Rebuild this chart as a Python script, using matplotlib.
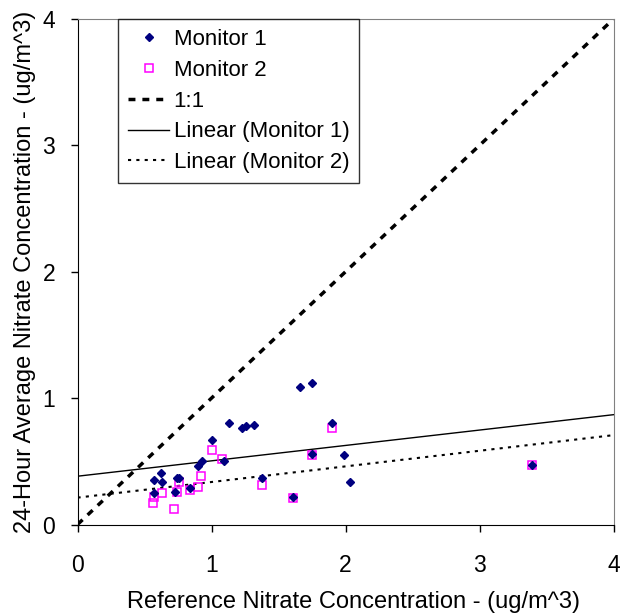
import numpy as np
from matplotlib import pyplot as plt

plt.rcParams['font.family'] = ['Liberation Sans', 'DejaVu Sans']

# reference vs. monitor nitrate (ug/m^3)
mon1_ref = [1.13, 1.23, 1.26, 1.32, 1.00, 0.93, 0.90, 1.09, 0.62, 0.57, 0.63, 0.74, 0.76,
            0.73, 0.84, 0.57, 1.38, 1.66, 1.75, 1.90, 1.75, 1.99, 2.03, 1.61, 3.39]
mon1_val = [0.80, 0.76, 0.78, 0.79, 0.67, 0.50, 0.46, 0.50, 0.41, 0.35, 0.34, 0.37, 0.37,
            0.26, 0.29, 0.25, 0.37, 1.09, 1.12, 0.80, 0.56, 0.55, 0.34, 0.22, 0.47]
mon2_ref = [1.00, 1.08, 0.92, 0.76, 0.90, 0.84, 0.74, 0.63, 0.57, 0.56, 0.72, 1.38, 1.90,
            1.75, 1.61, 3.39]
mon2_val = [0.59, 0.52, 0.38, 0.34, 0.30, 0.27, 0.26, 0.25, 0.22, 0.17, 0.12, 0.31, 0.76,
            0.55, 0.21, 0.47]
ticks = [0, 1, 2, 3, 4]

fig = plt.figure(figsize=(6.2, 6.13), dpi=100)
ax = fig.add_axes([77.5/620, 1-524.5/613, 536/620, 505.5/613])

ax.plot(mon1_ref, mon1_val, 'D', color='#000080', markersize=4.5, label='Monitor 1', zorder=4)
ax.plot(mon2_ref, mon2_val, 's', mfc='none', mec='#FF00FF', mew=1.1, markersize=6,
        label='Monitor 2', zorder=3)
ax.plot([0, 4], [0, 4], color='k', linestyle=(0, (2, 2)), linewidth=2.5, label='1:1')

# least-squares trend lines over the full axis range
xx = np.array([0, 4])
m1, b1 = np.polyfit(mon1_ref, mon1_val, 1)
m2, b2 = np.polyfit(mon2_ref, mon2_val, 1)
ax.plot(xx, m1*xx + b1, color='k', linewidth=1, label='Linear (Monitor 1)')
ax.plot(xx, m2*xx + b2, color='k', linestyle=(0, (1.5, 2.5)), linewidth=1.5,
        label='Linear (Monitor 2)')

ax.set_xlim(0, 4)
ax.set_ylim(0, 4)
ax.set_xticks(ticks)
ax.set_yticks(ticks)
ax.tick_params(labelsize=16.5, length=5, width=1, direction='out')
ax.tick_params(axis='x', pad=16)
ax.tick_params(axis='y', pad=11)
for s in ['top', 'right']:
    ax.spines[s].set_color('#808080')
ax.set_xlabel('Reference Nitrate Concentration - (ug/m^3)', fontsize=17)
ax.xaxis.set_label_coords(0.514, -0.131)
ax.set_ylabel('24-Hour Average Nitrate Concentration - (ug/m^3)', fontsize=17, labelpad=5)

leg = ax.legend(loc='upper left', bbox_to_anchor=(40.5/536, 1.0), fontsize=16, frameon=True,
                fancybox=False, edgecolor='k', borderaxespad=0, handlelength=1.85,
                labelspacing=0.44, borderpad=0.45, handletextpad=0.2)
leg.get_frame().set_linewidth(1)

plt.savefig('out.png')
